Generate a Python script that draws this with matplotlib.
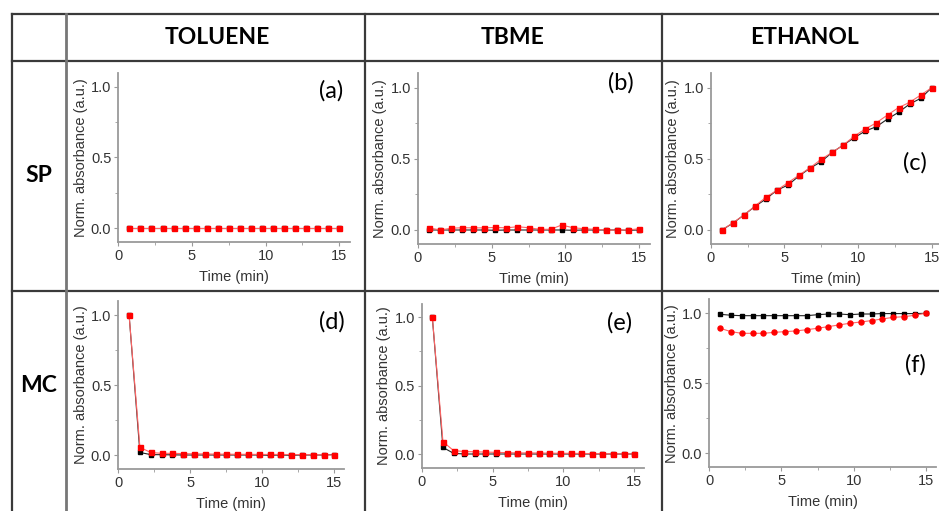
import matplotlib
matplotlib.use("Agg")
import matplotlib.pyplot as plt
from matplotlib.ticker import MultipleLocator

# ---------------- data ----------------
time_min = [0.75, 1.5, 2.25, 3.0, 3.75, 4.5, 5.25, 6.0, 6.75, 7.5,
            8.25, 9.0, 9.75, 10.5, 11.25, 12.0, 12.75, 13.5, 14.25, 15.0]

solvents = ["TOLUENE", "TBME", "ETHANOL"]
forms = ["SP", "MC"]
panel_tags = ["(a)", "(b)", "(c)", "(d)", "(e)", "(f)"]

# SP row
tol_sp_black = [0.0] * 20
tol_sp_red = [0.003] * 20
tbme_sp_black = [0.0, 0.0, 0.0, 0.0, 0.0, 0.0, -0.002, 0.0, 0.0, 0.0,
                 0.0, 0.0, 0.0, -0.002, 0.0, 0.0, 0.0, 0.0, -0.002, 0.0]
tbme_sp_red = [0.016, 0.0, 0.012, 0.016, 0.015, 0.015, 0.018, 0.015, 0.023, 0.016,
               0.005, 0.005, 0.035, 0.016, 0.009, 0.005, 0.0, -0.002, 0.0, 0.009]
eth_sp_black = [0.0, 0.047, 0.105, 0.165, 0.218, 0.28, 0.316, 0.38, 0.435, 0.48,
                0.546, 0.597, 0.649, 0.696, 0.726, 0.78, 0.827, 0.885, 0.925, 1.0]
eth_sp_red = [0.0, 0.05, 0.105, 0.168, 0.23, 0.28, 0.333, 0.386, 0.438, 0.497,
              0.546, 0.597, 0.66, 0.71, 0.754, 0.808, 0.86, 0.897, 0.948, 1.0]

# MC row
tol_mc_black = [1.0, 0.018, 0.003, 0.002, 0.001, 0.0, 0.0, 0.0, 0.0, 0.0,
                0.0, 0.0, 0.0, -0.002, 0.0, -0.002, 0.0, 0.0, 0.0, 0.003]
tol_mc_red = [1.0, 0.055, 0.018, 0.012, 0.012, 0.01, 0.008, 0.008, 0.006, 0.006,
              0.005, 0.005, 0.004, 0.004, 0.004, 0.003, 0.003, 0.002, 0.001, 0.0]
tbme_mc_black = [1.0, 0.048, 0.005, 0.0, 0.0, 0.0, 0.0, 0.0, 0.0, 0.0,
                 0.0, 0.0, 0.0, 0.0, 0.0, 0.0, 0.0, 0.0, 0.0, 0.0]
tbme_mc_red = [1.0, 0.09, 0.025, 0.018, 0.016, 0.014, 0.012, 0.01, 0.008, 0.008,
               0.007, 0.006, 0.005, 0.005, 0.004, 0.003, 0.002, 0.001, 0.001, 0.0]
eth_mc_black = [0.993, 0.986, 0.983, 0.983, 0.983, 0.983, 0.983, 0.983, 0.983, 0.99,
                0.995, 0.995, 0.99, 0.995, 0.995, 0.998, 0.998, 0.998, 0.998, 1.0]
eth_mc_red = [0.893, 0.869, 0.857, 0.857, 0.857, 0.864, 0.869, 0.874, 0.883, 0.893,
              0.905, 0.917, 0.929, 0.938, 0.948, 0.96, 0.971, 0.976, 0.986, 1.0]

black_series = [tol_sp_black, tbme_sp_black, eth_sp_black,
                tol_mc_black, tbme_mc_black, eth_mc_black]
red_series = [tol_sp_red, tbme_sp_red, eth_sp_red,
              tol_mc_red, tbme_mc_red, eth_mc_red]
red_markers = ["s", "s", "s", "s", "s", "o"]

# ---------------- layout ----------------
W, H = 939, 511
fig = plt.figure(figsize=(W / 100, H / 100), dpi=100)

# pixel anchors: x of t=0, x of t=15, y of 0.0, y of 1.0
anchors = [
    (118.3, 339.3, 228.3, 86.7),
    (417.7, 639.3, 230.0, 87.7),
    (710.7, 931.7, 230.0, 87.7),
    (118.3, 334.3, 455.0, 315.0),
    (421.7, 634.3, 454.0, 317.3),
    (709.3, 925.7, 453.3, 313.3),
]
tag_pos = [(331, 91), (621, 83), (915, 163), (332, 322), (620, 323), (915, 365)]

XMAX, YMIN, YMAX = 15.7, -0.1, 1.1
spine_col = "#9a9a9a"
text_col = "#333333"
font = "Liberation Sans"

for i, (x0, x15, y0, y1) in enumerate(anchors):
    pxu = (x15 - x0) / 15.0
    pyu = (y0 - y1)
    left = x0
    width = XMAX * pxu
    bottom_px = y0 - YMIN * pyu
    height = (YMAX - YMIN) * pyu
    ax = fig.add_axes([left / W, 1 - bottom_px / H, width / W, height / H])
    ax.patch.set_alpha(0)
    ax.plot(time_min, black_series[i], color="#222222", lw=0.8, marker="s",
            ms=3.3, mfc="black", mec="black", zorder=2)
    ax.plot(time_min, red_series[i], color="#ff6464", lw=0.8, marker=red_markers[i],
            ms=3.6, mfc="#ff0000", mec="#ff0000", zorder=3)
    ax.set_xlim(0, XMAX)
    ax.set_ylim(YMIN, YMAX)
    ax.xaxis.set_major_locator(MultipleLocator(5))
    ax.xaxis.set_minor_locator(MultipleLocator(2.5))
    ax.yaxis.set_major_locator(MultipleLocator(0.5))
    ax.yaxis.set_minor_locator(MultipleLocator(0.25))
    for s in ["top", "right"]:
        ax.spines[s].set_visible(False)
    for s in ["left", "bottom"]:
        ax.spines[s].set_color(spine_col)
        ax.spines[s].set_linewidth(1.3)
    ax.tick_params(which="major", direction="out", length=3, width=0.8,
                   color=spine_col, labelsize=10.5, labelcolor=text_col, pad=2)
    ax.tick_params(which="minor", direction="out", length=2, width=0.6,
                   color=spine_col)
    for lab in ax.get_xticklabels() + ax.get_yticklabels():
        lab.set_family(font)
    ax.set_xlabel("Time (min)", fontsize=10.5, family=font, color=text_col, labelpad=5)
    ax.set_ylabel("Norm. absorbance (a.u.)", fontsize=10.5, family=font,
                  color=text_col, labelpad=2)
    tx, ty = tag_pos[i]
    fig.text(tx / W, 1 - ty / H, panel_tags[i], fontsize=17, family="Lato",
             ha="center", va="center", color="black")

# ---------------- table grid ----------------
grid = fig.add_axes([0, 0, 1, 1], zorder=-1)
grid.set_xlim(0, W)
grid.set_ylim(H, 0)
grid.axis("off")
line_col = "#3a3a3a"
for y in [14, 61, 291]:
    grid.plot([12, W], [y, y], color=line_col, lw=1.6)
for x in [12, 66, 365, 662]:
    grid.plot([x, x], [14, H], color=line_col if x != 66 else "#777777",
              lw=1.6 if x != 66 else 2.0)

header_x = [217, 513, 805]
for name, hx in zip(solvents, header_x):
    fig.text(hx / W, 1 - 38 / H, name, fontsize=16.5, family="Lato",
             fontweight="bold", ha="center", va="center")
row_y = [175, 385]
for name, ry in zip(forms, row_y):
    fig.text(39 / W, 1 - ry / H, name, fontsize=16.5, family="Lato",
             fontweight="bold", ha="center", va="center")

fig.savefig("out.png", dpi=100)
